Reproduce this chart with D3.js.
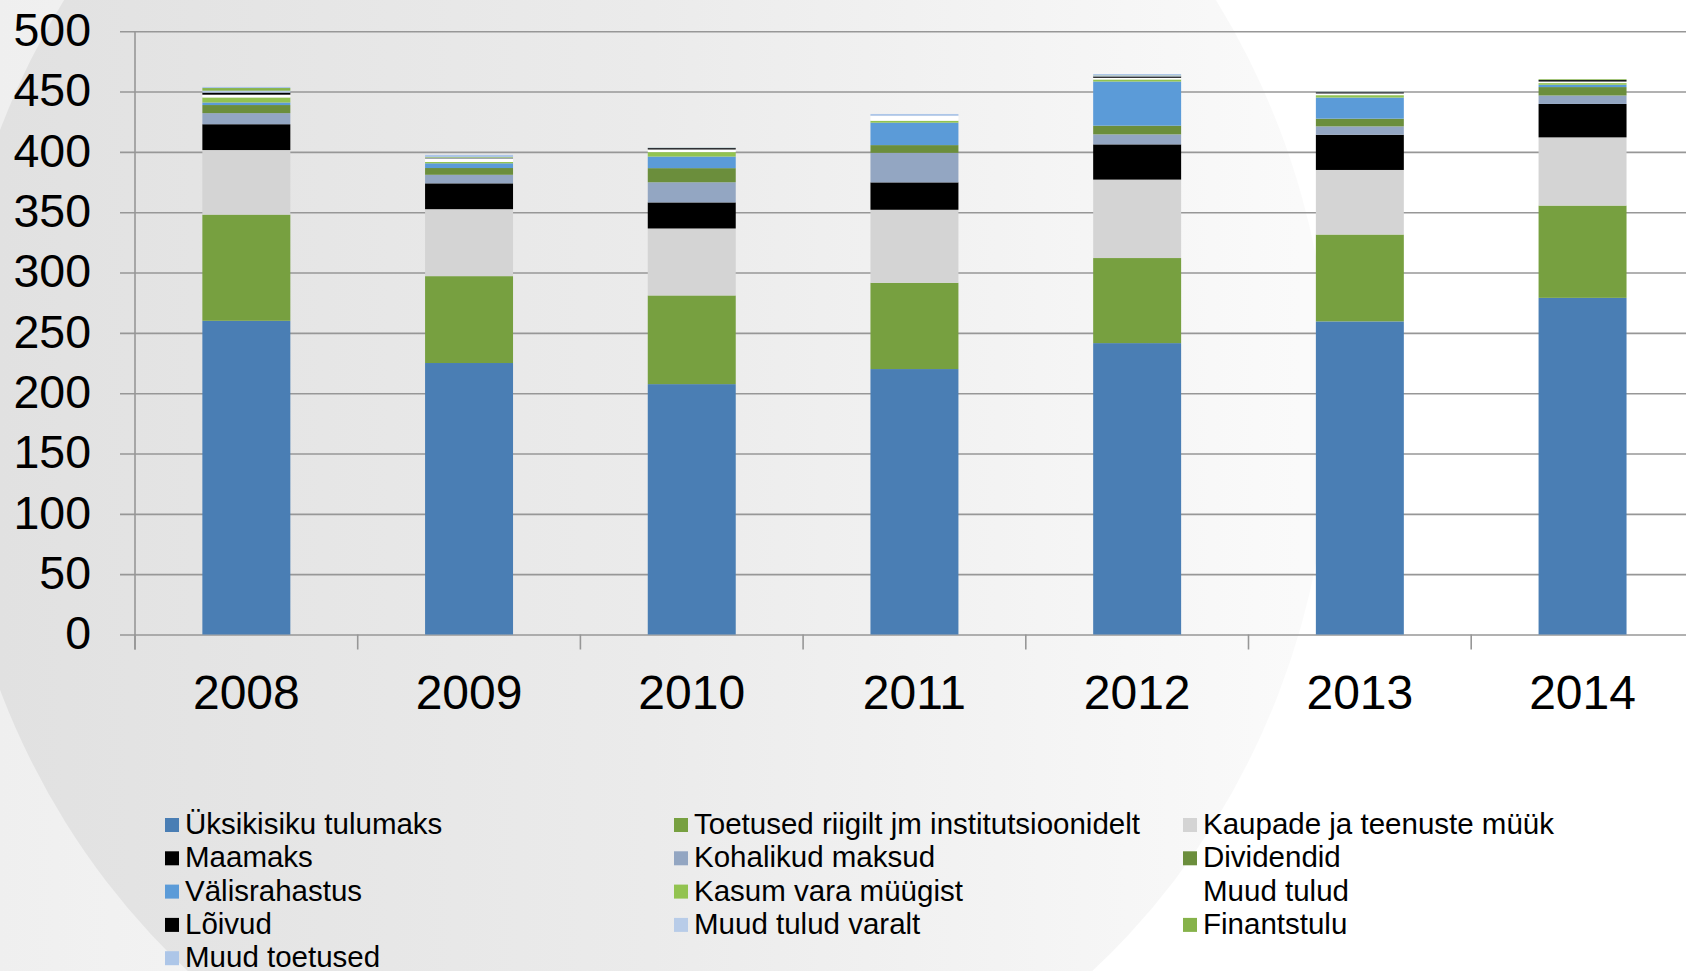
<!DOCTYPE html>
<html lang="et">
<head>
    <meta charset="UTF-8">
    <title>Tulud 2008-2014</title>
    <script src="https://d3js.org/d3.v7.min.js"></script>
    <style>
        html, body {
            margin: 0;
            padding: 0;
            background: #ffffff;
            overflow: hidden;
        }
        svg text {
            font-family: 'Liberation Sans', Arial, sans-serif;
            fill: #000000;
        }
        .axis path { display: none; }
        .grid line { stroke: #979797; stroke-width: 1.6; }
    </style>
</head>
<body>
    <svg id="chart" width="1686" height="971"></svg>
    <script>
        // data (million EUR)
        const years = ['2008', '2009', '2010', '2011', '2012', '2013', '2014'];
        const seriesNames = [
            'Üksikisiku tulumaks', 'Toetused riigilt jm institutsioonidelt', 'Kaupade ja teenuste müük',
            'Maamaks', 'Kohalikud maksud', 'Dividendid',
            'Välisrahastus', 'Kasum vara müügist', 'Muud tulud',
            'Lõivud', 'Muud tulud varalt', 'Finantstulu',
            'Muud toetused'
        ];
        const tulumaks    = [260, 225, 207.5, 220, 241.5, 259.5, 279];
        const toetused    = [88, 72, 73.5, 71.5, 70.5, 72, 76.5];
        const myyk        = [53.5, 55.5, 55.5, 60.5, 65, 53.5, 56.5];
        const maamaks     = [21.4, 21.4, 21.6, 22.7, 29.2, 29.2, 27.7];
        const kohalikud   = [9.2, 7.1, 16.7, 24.5, 8.3, 6.9, 7];
        const dividendid  = [6.7, 5.6, 11.7, 6.4, 7.2, 6.4, 7];
        const valis       = [2.1, 3.9, 9.6, 18.6, 36.6, 17.5, 1.9];
        const kasum       = [4.2, 1.1, 3.7, 1.6, 1.7, 2, 1.4];
        const muudTulud   = [2.3, 2.8, 2.2, 3.9, 1.4, 1.4, 1.3];
        const loivud      = [1.7, 0.3, 1.1, 0, 1.1, 1, 1.2];
        const varalt      = [1.6, 0.5, 0.2, 0.3, 0.5, 0.2, 0.2];
        const finants     = [2.2, 0.5, 0.1, 0, 0.3, 0.1, 0.6];
        const muudToetused = [0.9, 1.8, 0.2, 1.4, 1.2, 0.2, 0];
        const yTicks = [0, 50, 100, 150, 200, 250, 300, 350, 400, 450, 500];

        const colors = ['#4a7eb4', '#77a040', '#d4d4d4', '#000000', '#93a6c2', '#6b8e3c',
            '#5b9bd8', '#92c350', '#ffffff', '#000000', '#b8cce8', '#86b24a', '#adc6e8'];

        const values = [tulumaks, toetused, myyk, maamaks, kohalikud, dividendid, valis,
            kasum, muudTulud, loivud, varalt, finants, muudToetused];
        const table = years.map((yr, i) => {
            const row = { year: yr };
            seriesNames.forEach((s, k) => { row[s] = values[k][i]; });
            return row;
        });

        const svg = d3.select('#chart');
        const W = 1686, H = 971;

        // background: grey ellipse fading to white on the right
        const defs = svg.append('defs');
        const bgGrad = defs.append('linearGradient').attr('id', 'bgGrad')
            .attr('gradientUnits', 'userSpaceOnUse')
            .attr('x1', 0).attr('y1', 0).attr('x2', 900).attr('y2', 0);
        bgGrad.append('stop').attr('offset', 0).attr('stop-color', '#efefef');
        bgGrad.append('stop').attr('offset', 1).attr('stop-color', '#ffffff');
        const elGrad = defs.append('linearGradient').attr('id', 'elGrad')
            .attr('gradientUnits', 'userSpaceOnUse')
            .attr('x1', 0).attr('y1', 0).attr('x2', 1300).attr('y2', 0);
        elGrad.append('stop').attr('offset', 0).attr('stop-color', '#e1e1e1');
        elGrad.append('stop').attr('offset', 0.5).attr('stop-color', '#ebebeb');
        elGrad.append('stop').attr('offset', 1).attr('stop-color', '#fafafa');

        svg.append('rect').attr('width', W).attr('height', H).attr('fill', 'url(#bgGrad)');
        svg.append('ellipse')
            .attr('cx', 640).attr('cy', 410).attr('rx', 691).attr('ry', 742)
            .attr('fill', 'url(#elGrad)');

        const plotLeft = 135, bandStep = 222.7, plotBottom = 634.5, plotTop = 31.2;
        const x = d3.scaleBand()
            .domain(years)
            .range([plotLeft, plotLeft + bandStep * years.length])
            .paddingInner(0.605)
            .paddingOuter(0.3025);
        const y = d3.scaleLinear().domain([0, 500]).range([plotBottom, plotTop]);

        // gridlines + y labels
        const yAxis = svg.append('g')
            .attr('class', 'axis grid')
            .attr('transform', `translate(${plotLeft},0)`)
            .call(d3.axisLeft(y).tickValues(yTicks).tickSizeOuter(0)
                .tickSizeInner(-(W - plotLeft)).tickPadding(44));
        yAxis.selectAll('.tick line').attr('x1', -15);
        yAxis.selectAll('text').attr('font-size', 46.5).attr('dy', '0.31em');

        // y axis line
        svg.append('line')
            .attr('x1', plotLeft).attr('x2', plotLeft)
            .attr('y1', y(500)).attr('y2', plotBottom + 15)
            .attr('stroke', '#979797').attr('stroke-width', 1.6);

        // category tick marks at band edges
        svg.append('g').selectAll('line')
            .data(d3.range(years.length + 1))
            .join('line')
            .attr('x1', i => x.range()[0] + i * x.step())
            .attr('x2', i => x.range()[0] + i * x.step())
            .attr('y1', plotBottom).attr('y2', plotBottom + 15)
            .attr('stroke', '#979797').attr('stroke-width', 1.6);

        // stacked bars
        const stacked = d3.stack().keys(seriesNames)(table);
        svg.append('g').selectAll('g')
            .data(stacked)
            .join('g')
            .attr('fill', (d, k) => colors[k])
            .selectAll('rect')
            .data(d => d)
            .join('rect')
            .attr('x', d => x(d.data.year))
            .attr('width', x.bandwidth())
            .attr('y', d => y(d[1]))
            .attr('height', d => y(d[0]) - y(d[1]));

        // x labels
        const xAxis = svg.append('g')
            .attr('class', 'axis')
            .attr('transform', `translate(0,${plotBottom})`)
            .call(d3.axisBottom(x).tickSize(0).tickPadding(40));
        xAxis.selectAll('text').attr('font-size', 48);

        // legend, three columns row by row
        const legend = svg.append('g').selectAll('g')
            .data(seriesNames)
            .join('g')
            .attr('transform', (d, i) => `translate(${165 + (i % 3) * 509},${818 + Math.floor(i / 3) * 33.3})`);
        legend.append('rect')
            .attr('width', 14).attr('height', 14)
            .attr('fill', (d, i) => colors[i]);
        legend.append('text')
            .attr('x', 20).attr('y', 16)
            .attr('font-size', 29.5)
            .text(d => d);
    </script>
</body>
</html>
